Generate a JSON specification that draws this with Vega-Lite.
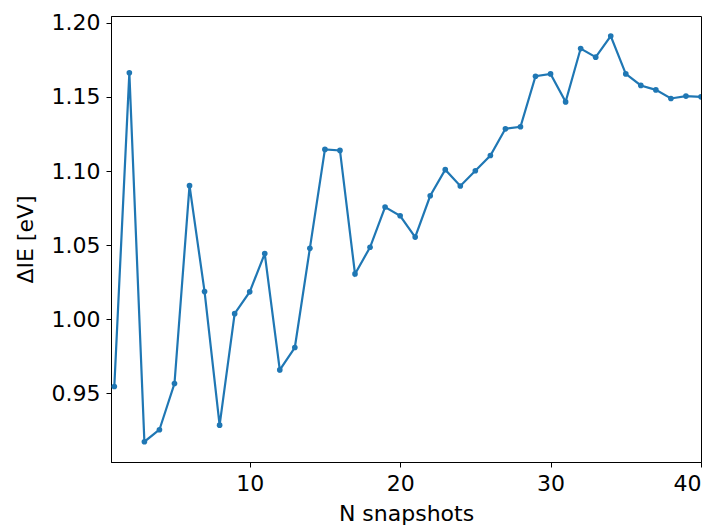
{
  "$schema": "https://vega.github.io/schema/vega-lite/v6.json",
  "width": 590,
  "height": 446,
  "autosize": "none",
  "padding": {"left": 111, "top": 16, "right": 19, "bottom": 67},
  "background": "white",
  "config": {
    "view": {"stroke": "black", "strokeWidth": 1},
    "font": "DejaVu Sans",
    "axis": {
      "grid": false,
      "domainColor": "black",
      "tickColor": "black",
      "labelColor": "black",
      "titleColor": "black",
      "labelFont": "DejaVu Sans",
      "titleFont": "DejaVu Sans",
      "labelFontSize": 22,
      "titleFontSize": 22,
      "titleFontWeight": "normal",
      "tickSize": 5,
      "labelPadding": 6
    }
  },
  "data": {
    "values": [
      {"n": 1, "v": 0.9545},
      {"n": 2, "v": 1.1663},
      {"n": 3, "v": 0.9172},
      {"n": 4, "v": 0.9253},
      {"n": 5, "v": 0.9565},
      {"n": 6, "v": 1.0901},
      {"n": 7, "v": 1.0186},
      {"n": 8, "v": 0.9284},
      {"n": 9, "v": 1.0037},
      {"n": 10, "v": 1.0184},
      {"n": 11, "v": 1.0442},
      {"n": 12, "v": 0.9657},
      {"n": 13, "v": 0.9808},
      {"n": 14, "v": 1.0478},
      {"n": 15, "v": 1.1146},
      {"n": 16, "v": 1.1139},
      {"n": 17, "v": 1.0305},
      {"n": 18, "v": 1.0485},
      {"n": 19, "v": 1.0757},
      {"n": 20, "v": 1.0698},
      {"n": 21, "v": 1.0554},
      {"n": 22, "v": 1.0833},
      {"n": 23, "v": 1.1009},
      {"n": 24, "v": 1.0899},
      {"n": 25, "v": 1.1002},
      {"n": 26, "v": 1.1105},
      {"n": 27, "v": 1.1285},
      {"n": 28, "v": 1.1299},
      {"n": 29, "v": 1.1640},
      {"n": 30, "v": 1.1656},
      {"n": 31, "v": 1.1467},
      {"n": 32, "v": 1.1827},
      {"n": 33, "v": 1.1769},
      {"n": 34, "v": 1.1912},
      {"n": 35, "v": 1.1656},
      {"n": 36, "v": 1.1578},
      {"n": 37, "v": 1.1548},
      {"n": 38, "v": 1.1490},
      {"n": 39, "v": 1.1506},
      {"n": 40, "v": 1.1501}
    ]
  },
  "encoding": {
    "x": {
      "field": "n",
      "type": "quantitative",
      "scale": {"domain": [0.78, 40], "nice": false, "zero": false},
      "axis": {"values": [10, 20, 30, 40], "title": "N snapshots", "titlePadding": 9}
    },
    "y": {
      "field": "v",
      "type": "quantitative",
      "scale": {"domain": [0.9035, 1.2047], "nice": false, "zero": false},
      "axis": {"values": [0.95, 1.0, 1.05, 1.1, 1.15, 1.2], "format": ".2f", "title": "ΔIE [eV]", "titlePadding": 14}
    }
  },
  "layer": [
    {"mark": {"type": "line", "color": "#1f77b4", "strokeWidth": 2.2, "clip": true}},
    {"mark": {"type": "point", "filled": true, "color": "#1f77b4", "size": 32, "opacity": 1, "clip": true}}
  ]
}
